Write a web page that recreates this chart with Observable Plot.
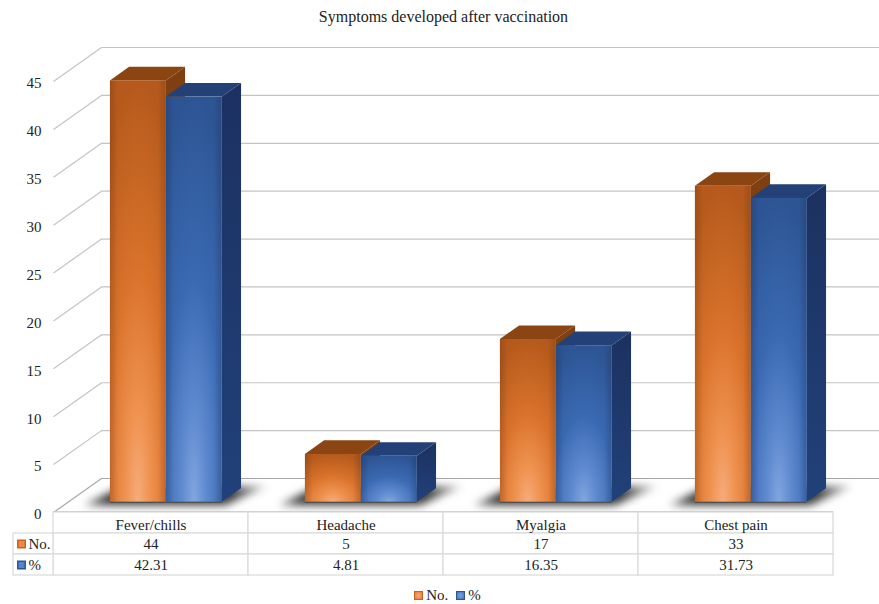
<!DOCTYPE html>
<html>
<head>
<meta charset="utf-8">
<script src="https://cdn.jsdelivr.net/npm/d3@7"></script>
<script src="https://cdn.jsdelivr.net/npm/@observablehq/plot@0.6"></script>
<style>
  html, body { margin: 0; padding: 0; background: #fff; }
  body { width: 879px; font-family: "Liberation Serif", serif; color: #222; }
  #title { height: 30px; line-height: 34px; text-align: center; font-size: 16px; padding-left: 8px; box-sizing: border-box; }
  #chart svg { display: block; }
  #table { margin-top: -8px; }
  #table svg { display: block; }
  #legend { margin-top: 9px; height: 20px; display: flex; justify-content: center; align-items: center; font-size: 15px; padding-left: 24px; box-sizing: border-box; }
  #legend i { display: inline-block; width: 7px; height: 7px; margin-right: 3px; border: 1px solid; }
  #legend span { margin-right: 8px; }
</style>
</head>
<body>
<div id="title">Symptoms developed after vaccination</div>
<div id="chart"></div>
<div id="table"></div>
<div id="legend">
  <i style="background:radial-gradient(#f6ab7a,#e67e33);border-color:#c9641e"></i><span>No.</span>
  <i style="background:radial-gradient(#7ea3dc,#3f72c0);border-color:#2c5593"></i><span>%</span>
</div>
<script>
// Survey counts and shares per symptom
const categories = ["Fever/chills", "Headache", "Myalgia", "Chest pain"];
const noValues = [44, 5, 17, 33];
const pctValues = [42.31, 4.81, 16.35, 31.73];
const pctLabels = ["42.31", "4.81", "16.35", "31.73"];
const yTicks = [0, 5, 10, 15, 20, 25, 30, 35, 40, 45];
const rowNames = ["", "No.", "%"];

// Oblique projection: depth 0 is the front of the floor, depth 1 the back wall
const DEPTH_X = 48 / 195;   // category units
const DEPTH_Y = 34 / 9.58;  // value units
const px = (c, d) => c + d * DEPTH_X;
const py = (v, d) => v + d * DEPTH_Y;

const NEAR = 0.3, FAR = 0.7;
const GAP = 0.218, BAR = 0.287;

const INK = "#222";
const GRID = "#c4c4c4";
const FLOOR = "#a8a8a8";
const font = "Liberation Serif";

const palette = {
  no:  { front: "url(#orangeFront)", side: "url(#orangeSide)", top: "#8a4513" },
  pct: { front: "url(#blueFront)",   side: "url(#blueSide)",   top: "#234177" }
};

const gradients = () => {
  const ns = "http://www.w3.org/2000/svg";
  const defs = document.createElementNS(ns, "defs");
  defs.innerHTML = `
    <radialGradient id="orangeFront" cx="0.5" cy="1" r="1">
      <stop offset="0" stop-color="#f6ac7c"/><stop offset="0.22" stop-color="#ef9250"/>
      <stop offset="0.55" stop-color="#d9722b"/><stop offset="1" stop-color="#b55a1c"/>
    </radialGradient>
    <radialGradient id="blueFront" cx="0.5" cy="1" r="1">
      <stop offset="0" stop-color="#82a6de"/><stop offset="0.22" stop-color="#5f8ad0"/>
      <stop offset="0.55" stop-color="#3a69b2"/><stop offset="1" stop-color="#2d5594"/>
    </radialGradient>
    <linearGradient id="edgeShade" x1="0" x2="1" y1="0" y2="0">
      <stop offset="0" stop-color="#000" stop-opacity="0.14"/><stop offset="0.14" stop-color="#000" stop-opacity="0"/>
      <stop offset="0.86" stop-color="#000" stop-opacity="0"/><stop offset="1" stop-color="#000" stop-opacity="0.14"/>
    </linearGradient>
    <linearGradient id="orangeSide" x1="0" x2="0" y1="0" y2="1">
      <stop offset="0" stop-color="#7e3f11"/><stop offset="1" stop-color="#9a4f17"/>
    </linearGradient>
    <linearGradient id="blueSide" x1="0" x2="0" y1="0" y2="1">
      <stop offset="0" stop-color="#1c3160"/><stop offset="1" stop-color="#21417a"/>
    </linearGradient>
    <linearGradient id="floorShadow" x1="0" x2="1" y1="0" y2="0">
      <stop offset="0" stop-color="#2e2e2e" stop-opacity="0.55"/><stop offset="0.12" stop-color="#2e2e2e" stop-opacity="0.95"/>
      <stop offset="0.8" stop-color="#2e2e2e" stop-opacity="0.95"/><stop offset="1" stop-color="#2e2e2e" stop-opacity="0.25"/>
    </linearGradient>`;
  return defs;
};

// Bars as flat records, orange before blue so the blue one overlaps its neighbour
const bars = categories.flatMap((name, i) => [
  { c0: i + GAP, c1: i + GAP + BAR, v: noValues[i], colors: palette.no },
  { c0: i + GAP + BAR, c1: i + GAP + 2 * BAR, v: pctValues[i], colors: palette.pct }
]);

const barMarks = (b) => {
  const side = [
    { x: px(b.c1, NEAR), y1: py(0, NEAR), y2: py(b.v, NEAR) },
    { x: px(b.c1, FAR), y1: py(0, FAR), y2: py(b.v, FAR) }
  ];
  const top = [
    { y: py(b.v, NEAR), x1: px(b.c0, NEAR), x2: px(b.c1, NEAR) },
    { y: py(b.v, FAR), x1: px(b.c0, FAR), x2: px(b.c1, FAR) }
  ];
  const face = [{ x1: px(b.c0, NEAR), x2: px(b.c1, NEAR), y1: py(0, NEAR), y2: py(b.v, NEAR) }];
  return [
    Plot.area(side, { x1: "x", y1: "y1", y2: "y2", fill: b.colors.side }),
    Plot.area(top, { x1: "x1", x2: "x2", y1: "y", fill: b.colors.top }),
    Plot.rect(face, { x1: "x1", x2: "x2", y1: "y1", y2: "y2", fill: b.colors.front }),
    Plot.rect(face, { x1: "x1", x2: "x2", y1: "y1", y2: "y2", fill: "url(#edgeShade)" }),
    Plot.ruleY(face, { x1: "x1", x2: "x2", y: "y1", stroke: "#4a4a4a", strokeWidth: 1 })
  ];
};

// Soft cast shadow on the floor under each pair of bars
const shadowMarks = categories.map((name, i) => {
  const left = i + GAP, right = i + GAP + 2 * BAR;
  const pts = [
    { y: py(0, 0.2), x1: px(left - 0.11, 0.2), x2: px(right + 0.04, 0.2) },
    { y: py(0, 0.76), x1: px(left - 0.05, 0.76), x2: px(right + 0.12, 0.76) }
  ];
  return Plot.area(pts, { x1: "x1", x2: "x2", y1: "y", fill: "url(#floorShadow)", imageFilter: "blur(4px)" });
});

const chart = Plot.plot({
  width: 879,
  height: 490,
  marginTop: 51,
  marginBottom: 8,
  marginLeft: 53,
  marginRight: 46,
  style: { background: "transparent", fontFamily: font, overflow: "visible" },
  x: { domain: [0, categories.length], axis: null },
  y: { domain: [0, 45], axis: null },
  marks: [
    gradients,
    // Back wall gridlines and their returns along the side wall
    Plot.ruleY(yTicks, { y: (v) => py(v, 1), x1: px(0, 1), x2: px(categories.length, 1), stroke: (v) => v === 0 ? FLOOR : GRID, strokeWidth: 1.2 }),
    Plot.link(yTicks, { x1: px(0, 0), y1: (v) => py(v, 0), x2: px(0, 1), y2: (v) => py(v, 1), stroke: (v) => v === 0 ? FLOOR : GRID, strokeWidth: 1.2 }),
    ...shadowMarks,
    ...bars.flatMap(barMarks),
    Plot.ruleY([0], { x1: 0, x2: categories.length, stroke: FLOOR, strokeWidth: 2.5 }),
    Plot.axisY({ ticks: yTicks, tickSize: 0, tickPadding: 12, fontSize: 15, color: INK, label: null, dy: 2, tickFormat: (d) => String(d) })
  ]
});
document.getElementById("chart").append(chart);

// Data table under the plot, sharing the category width of the floor
const LABEL_COL = -40 / 195;
const rowCells = [
  ...categories.map((name, i) => ({ x1: i, x2: i + 1, row: rowNames[0], text: name })),
  ...categories.map((name, i) => ({ x1: i, x2: i + 1, row: rowNames[1], text: String(noValues[i]) })),
  ...categories.map((name, i) => ({ x1: i, x2: i + 1, row: rowNames[2], text: pctLabels[i] }))
];
const labelCells = [
  { row: rowNames[1], fill: "#ee8a45", stroke: "#c9641e" },
  { row: rowNames[2], fill: "#5584cc", stroke: "#2c5593" }
];

const table = Plot.plot({
  width: 879,
  height: 64,
  marginTop: 0,
  marginBottom: 1,
  marginLeft: 13,
  marginRight: 46,
  style: { background: "transparent", fontFamily: font, overflow: "visible" },
  x: { domain: [LABEL_COL, categories.length], axis: null },
  y: { domain: rowNames, axis: null, paddingInner: 0, paddingOuter: 0 },
  marks: [
    Plot.barX(rowCells, { x1: "x1", x2: "x2", y: "row", fill: "white", stroke: "#dcdcdc", strokeWidth: 1.3 }),
    Plot.barX(labelCells, { x1: LABEL_COL, x2: 0, y: "row", fill: "white", stroke: "#dcdcdc", strokeWidth: 1.3 }),
    Plot.text(rowCells.filter((d) => d.row === rowNames[0]), { x: (d) => d.x1 + 0.5, y: "row", text: "text", fontSize: 15, fill: INK, dy: 2 }),
    Plot.text(rowCells.filter((d) => d.row !== rowNames[0]), { x: (d) => d.x1 + 0.5, y: "row", text: "text", fontSize: 15, fill: INK }),
    Plot.dot(labelCells, { x: LABEL_COL + 0.041, y: "row", symbol: "square", r: 4.2, fill: "fill", stroke: "stroke" }),
    Plot.text(labelCells, { x: LABEL_COL + 0.077, y: "row", text: "row", textAnchor: "start", fontSize: 15, fill: INK })
  ]
});
document.getElementById("table").append(table);
</script>
</body>
</html>
